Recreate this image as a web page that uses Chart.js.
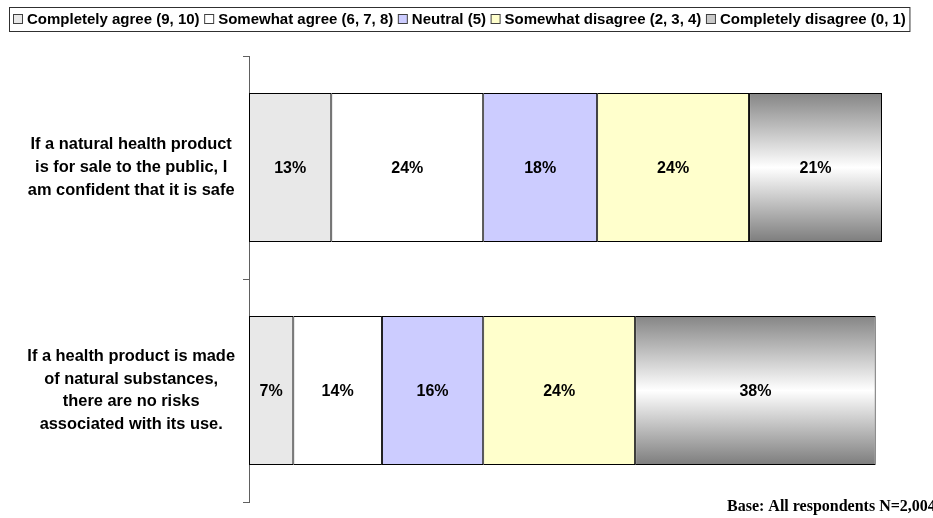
<!DOCTYPE html>
<html>
<head>
<meta charset="utf-8">
<script src="https://cdn.jsdelivr.net/npm/chart.js@4"></script>
<style>
  html, body { margin: 0; padding: 0; background: #ffffff; }
  #wrap { width: 933px; height: 518px; position: relative; }
</style>
</head>
<body>
<div id="wrap"><canvas id="chart" width="933" height="518"></canvas></div>
<script>
// Survey statements (one bar each)
const statements = [
  ['If a natural health product', 'is for sale to the public, I', 'am confident that it is safe'],
  ['If a health product is made', 'of natural substances,', 'there are no risks', 'associated with its use.']
];

// Answer groups, in stacking order
const seriesNames = [
  'Completely agree (9, 10)',
  'Somewhat agree (6, 7, 8)',
  'Neutral (5)',
  'Somewhat disagree (2, 3, 4)',
  'Completely disagree (0, 1)'
];

// Percent of respondents per answer group, per statement
const completelyAgree    = [13, 7];
const somewhatAgree      = [24, 14];
const neutral            = [18, 16];
const somewhatDisagree   = [24, 24];
const completelyDisagree = [21, 38];

const baseNote = 'Base: All respondents N=2,004';

const BAR_PCT = 0.668;

// Metallic vertical shading for the last segment of each bar
function metalFill(ctx) {
  const chart = ctx.chart;
  const ys = chart.scales && chart.scales.y;
  if (ctx.type !== 'data' || !ys || ys.height === undefined || !chart.chartArea) return '#a6a6a6';
  const cy = ys.getPixelForValue(ctx.dataIndex);
  const half = (ys.height / statements.length) * BAR_PCT / 2;
  const g = chart.ctx.createLinearGradient(0, cy - half, 0, cy + half);
  g.addColorStop(0, '#858585');
  g.addColorStop(0.5, '#ffffff');
  g.addColorStop(1, '#7d7d7d');
  return g;
}

const fills = ['#e8e8e8', '#ffffff', '#ccccff', '#ffffcc', metalFill];
const legendSwatches = ['#e8e8e8', '#ffffff', '#ccccff', '#ffffcc', '#c8c8c8'];
const values = [completelyAgree, somewhatAgree, neutral, somewhatDisagree, completelyDisagree];

const datasets = seriesNames.map((name, i) => ({
  label: name,
  data: values[i],
  backgroundColor: fills[i],
  borderColor: '#000000',
  borderWidth: 1,
  borderSkipped: false,
  barPercentage: BAR_PCT,
  categoryPercentage: 1
}));

// Percent labels centred in each segment
const segmentLabels = {
  id: 'segmentLabels',
  afterDatasetsDraw(chart) {
    const c = chart.ctx;
    c.save();
    c.font = 'bold 16px "Liberation Sans", Arial, sans-serif';
    c.fillStyle = '#000000';
    c.textAlign = 'center';
    c.textBaseline = 'middle';
    chart.data.datasets.forEach((ds, di) => {
      chart.getDatasetMeta(di).data.forEach((el, i) => {
        const v = ds.data[i];
        c.fillText(v + '%', (el.x + el.base) / 2, el.y + 1);
      });
    });
    c.restore();
  }
};

// Boxed legend row across the top, plus the base note
const boxedLegend = {
  id: 'boxedLegend',
  afterDraw(chart) {
    const c = chart.ctx;
    c.save();
    c.font = 'bold 15px "Liberation Sans", Arial, sans-serif';
    c.textBaseline = 'middle';
    c.textAlign = 'left';
    let x = 13;
    const midY = 19;
    chart.data.datasets.forEach((ds, i) => {
      c.fillStyle = legendSwatches[i];
      c.fillRect(x + 0.5, midY - 4.5, 9, 9);
      c.strokeStyle = '#404040';
      c.lineWidth = 1;
      c.strokeRect(x + 0.5, midY - 4.5, 9, 9);
      c.fillStyle = '#000000';
      c.fillText(ds.label, x + 14, midY + 1);
      x += 14 + c.measureText(ds.label).width + 4.6;
    });
    c.strokeStyle = '#303030';
    c.lineWidth = 1;
    c.strokeRect(9.5, 7.5, x - 10, 24);

    c.font = 'bold 16px "Liberation Serif", "Times New Roman", serif';
    c.textBaseline = 'middle';
    c.fillText(baseNote, 727, 507);
    c.restore();
  }
};

new Chart(document.getElementById('chart'), {
  type: 'bar',
  data: { labels: statements, datasets },
  options: {
    indexAxis: 'y',
    responsive: false,
    animation: false,
    layout: { padding: { top: 56, bottom: 16, right: 51, left: 0 } },
    plugins: {
      legend: { display: false },
      tooltip: { enabled: false }
    },
    scales: {
      x: {
        stacked: true,
        min: 0,
        max: 100,
        display: false
      },
      y: {
        stacked: true,
        offset: true,
        afterFit(scale) {
          scale.width = 249;
          scale.paddingTop = 0;
          scale.paddingBottom = 0;
        },
        grid: {
          offset: true,
          drawOnChartArea: false,
          drawTicks: true,
          tickLength: 6,
          color: '#606060'
        },
        border: { display: true, color: '#606060', width: 1 },
        ticks: {
          crossAlign: 'center',
          padding: 8,
          color: '#000000',
          font: { family: '"Liberation Sans", Arial, sans-serif', size: 16.4, weight: 'bold', lineHeight: 1.38 }
        }
      }
    }
  },
  plugins: [segmentLabels, boxedLegend]
});
</script>
</body>
</html>
